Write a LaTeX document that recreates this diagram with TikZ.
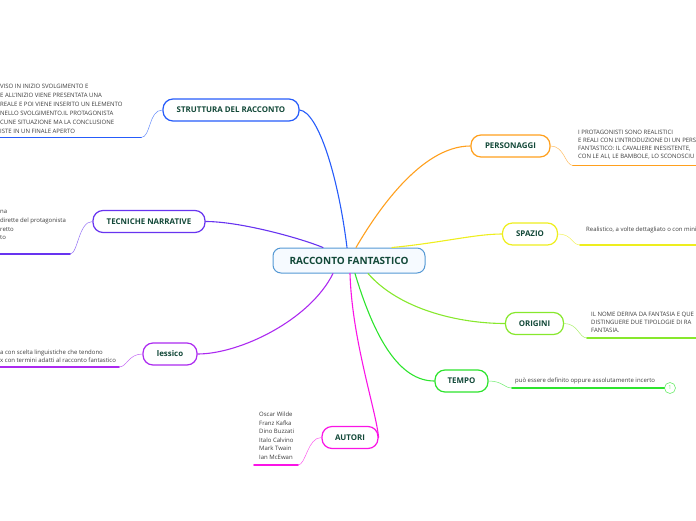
\documentclass[tikz,border=0pt]{standalone}
\usepackage{fontspec}
\setmainfont{Open Sans}
\definecolor{topictext}{RGB}{18, 72, 56}
\definecolor{notegray}{RGB}{60, 60, 60}
\definecolor{rootblue}{RGB}{84, 152, 212}
\definecolor{rootfill}{RGB}{246, 250, 255}
\definecolor{strutblue}{RGB}{38, 92, 250}
\definecolor{tecviolet}{RGB}{104, 52, 240}
\definecolor{lexpurple}{RGB}{172, 42, 240}
\definecolor{autmagenta}{RGB}{250, 20, 230}
\definecolor{persorange}{RGB}{255, 160, 30}
\definecolor{spayellow}{RGB}{238, 238, 30}
\definecolor{origreen}{RGB}{135, 232, 45}
\definecolor{tempgreen}{RGB}{45, 228, 45}

\begin{document}
\begin{tikzpicture}[x=1pt, y=-1pt, line cap=round,
    topic/.style={draw, fill=white, rounded corners=10pt, line width=1.2pt,
      minimum height=22pt, inner xsep=0pt, text=topictext,
      font=\bfseries\fontsize{7.9}{9}\selectfont},
    note/.style={align=left, inner sep=0pt, text=notegray,
      font=\fontsize{6}{9}\selectfont},
    branch/.style={line width=1.1pt},
    twig/.style={line width=0.5pt},
    under/.style={line width=1.6pt}]
        \useasboundingbox (0,0) rectangle (696,520);

        % Central topic
        \node[draw=rootblue, fill=rootfill, rounded corners=8pt, line width=1pt,
          minimum width=152pt, minimum height=25pt, text=topictext,
          font=\bfseries\fontsize{10}{11}\selectfont] (root) at (349,260.5) {RACCONTO FANTASTICO};

        % Left side branches
        \node[topic, draw=strutblue, minimum width=136pt] (strut) at (231,110) {STRUTTURA DEL RACCONTO};
        \node[topic, draw=tecviolet, minimum width=112pt] (tec) at (149,221.5) {TECNICHE NARRATIVE};
        \node[topic, draw=lexpurple, minimum width=54pt] (lex) at (170,354) {lessico};
        \node[topic, draw=autmagenta, minimum width=56pt] (aut) at (350,437.5) {AUTORI};

        % Right side branches
        \node[topic, draw=persorange, minimum width=79pt] (pers) at (510.5,146) {PERSONAGGI};
        \node[topic, draw=spayellow, minimum width=55pt] (spa) at (530,234) {SPAZIO};
        \node[topic, draw=origreen, minimum width=58pt] (ori) at (534.5,323.5) {ORIGINI};
        \node[topic, draw=tempgreen, minimum width=53pt] (temp) at (461.5,381) {TEMPO};

        % Branch curves from the central topic
        \draw[branch, strutblue] ([xshift=-2pt]root.north) .. controls (338,175) and (318,112) .. (strut.east);
        \draw[branch, tecviolet] ([xshift=-26pt]root.north) .. controls (300,238) and (240,221.5) .. (tec.east);
        \draw[branch, lexpurple] ([xshift=-16pt]root.south) .. controls (310,320) and (240,354) .. (lex.east);
        \draw[branch, autmagenta] ([xshift=1pt]root.south) .. controls (352,340) and (376,410) .. (aut.east);
        \draw[branch, persorange] ([xshift=7pt]root.north) .. controls (375,215) and (420,146) .. (pers.west);
        \draw[branch, spayellow] ([xshift=43pt]root.north) .. controls (440,243) and (475,234) .. (spa.west);
        \draw[branch, origreen] ([xshift=19pt]root.south) .. controls (400,310) and (460,323.5) .. (ori.west);
        \draw[branch, tempgreen] ([xshift=6pt]root.south) .. controls (375,340) and (400,381) .. (temp.west);

        % Notes, each on an underline
        \coordinate (strutU) at (141,137.5);
        \coordinate (strutL) at (-4,137.5);
        \draw[twig, strutblue!70] (strut.west) .. controls +(-14,0) and +(10,0) .. (strutU);
        \draw[under, strutblue] (strutU) -- (strutL);
        \node[note, anchor=west] (strutnote) at (0,108.5) {VISO IN INIZIO SVOLGIMENTO E\\E ALL'INIZIO VIENE PRESENTATA UNA\\REALE E POI VIENE INSERITO UN ELEMENTO\\NELLO SVOLGIMENTO.IL PROTAGONISTA\\CUNE SITUAZIONE MA LA CONCLUSIONE\\ISTE IN UN FINALE APERTO};

        \coordinate (tecU) at (70,254);
        \coordinate (tecL) at (-4,254);
        \draw[twig, tecviolet!70] (tec.west) .. controls +(-14,0) and +(8,0) .. (tecU);
        \draw[under, tecviolet] (tecU) -- (tecL);
        \node[note, anchor=west, font=\fontsize{6}{8.7}\selectfont] (tecnote) at (0,225.3) {na\\dirette del protagonista\\retto\\to};

        \coordinate (lexU) at (119,367);
        \coordinate (lexL) at (-4,367);
        \draw[twig, lexpurple!70] (lex.west) .. controls +(-14,0) and +(8,0) .. (lexU);
        \draw[under, lexpurple] (lexU) -- (lexL);
        \node[note, anchor=west, font=\fontsize{6}{8}\selectfont] (lexnote) at (0,356.2) {a con scelta linguistiche che tendono\\x con termini adatti al racconto fantastico};

        \coordinate (autU) at (298,465);
        \coordinate (autL) at (254,465);
        \draw[twig, autmagenta!70] (aut.west) .. controls +(-14,0) and +(8,0) .. (autU);
        \draw[under, autmagenta] (autU) -- (autL);
        \node[note, anchor=west, font=\fontsize{6}{8.6}\selectfont] (autnote) at (259,435.8) {Oscar Wilde\\Franz Kafka\\Dino Buzzati\\Italo Calvino\\Mark Twain\\Ian McEwan};

        \coordinate (persU) at (573,165.5);
        \coordinate (persR) at (700,165.5);
        \draw[twig, persorange!70] (pers.east) .. controls +(14,0) and +(-8,0) .. (persU);
        \draw[under, persorange] (persU) -- (persR);
        \node[note, anchor=west, font=\fontsize{6}{8}\selectfont] (persnote) at (578,144.7) {I PROTAGONISTI SONO REALISTICI\\E REALI CON L'INTRODUZIONE DI UN PERS\\FANTASTICO: IL CAVALIERE INESISTENTE,\\CON LE ALI, LE BAMBOLE, LO SCONOSCIU};

        \coordinate (spaU) at (580,245);
        \coordinate (spaR) at (700,245);
        \draw[twig, spayellow!70] (spa.east) .. controls +(14,0) and +(-8,0) .. (spaU);
        \draw[under, spayellow] (spaU) -- (spaR);
        \node[note, anchor=west] (spanote) at (586,230) {Realistico, a volte dettagliato o con mini};

        \coordinate (oriU) at (587,338);
        \coordinate (oriR) at (700,338);
        \draw[twig, origreen!70] (ori.east) .. controls +(14,0) and +(-8,0) .. (oriU);
        \draw[under, origreen] (oriU) -- (oriR);
        \node[note, anchor=west, font=\fontsize{6}{8.3}\selectfont] (orinote) at (591,322.3) {IL NOME DERIVA DA FANTASIA E QUE\\DISTINGUERE DUE TIPOLOGIE DI RA\\FANTASIA.};

        \node[draw=tempgreen!70, circle, minimum size=11pt, inner sep=0pt, line width=0.6pt,
          text=tempgreen!70, font=\fontsize{5.5}{6}\selectfont] (tempcount) at (670,388) {1};
        \coordinate (tempU) at (512,388);
        \draw[twig, tempgreen!70] (temp.east) .. controls +(14,0) and +(-8,0) .. (tempU);
        \draw[under, tempgreen] (tempU) -- (tempcount.west);
        \node[note, anchor=west] (tempnote) at (515,381) {può essere definito oppure assolutamente incerto};
    \end{tikzpicture}
\end{document}
